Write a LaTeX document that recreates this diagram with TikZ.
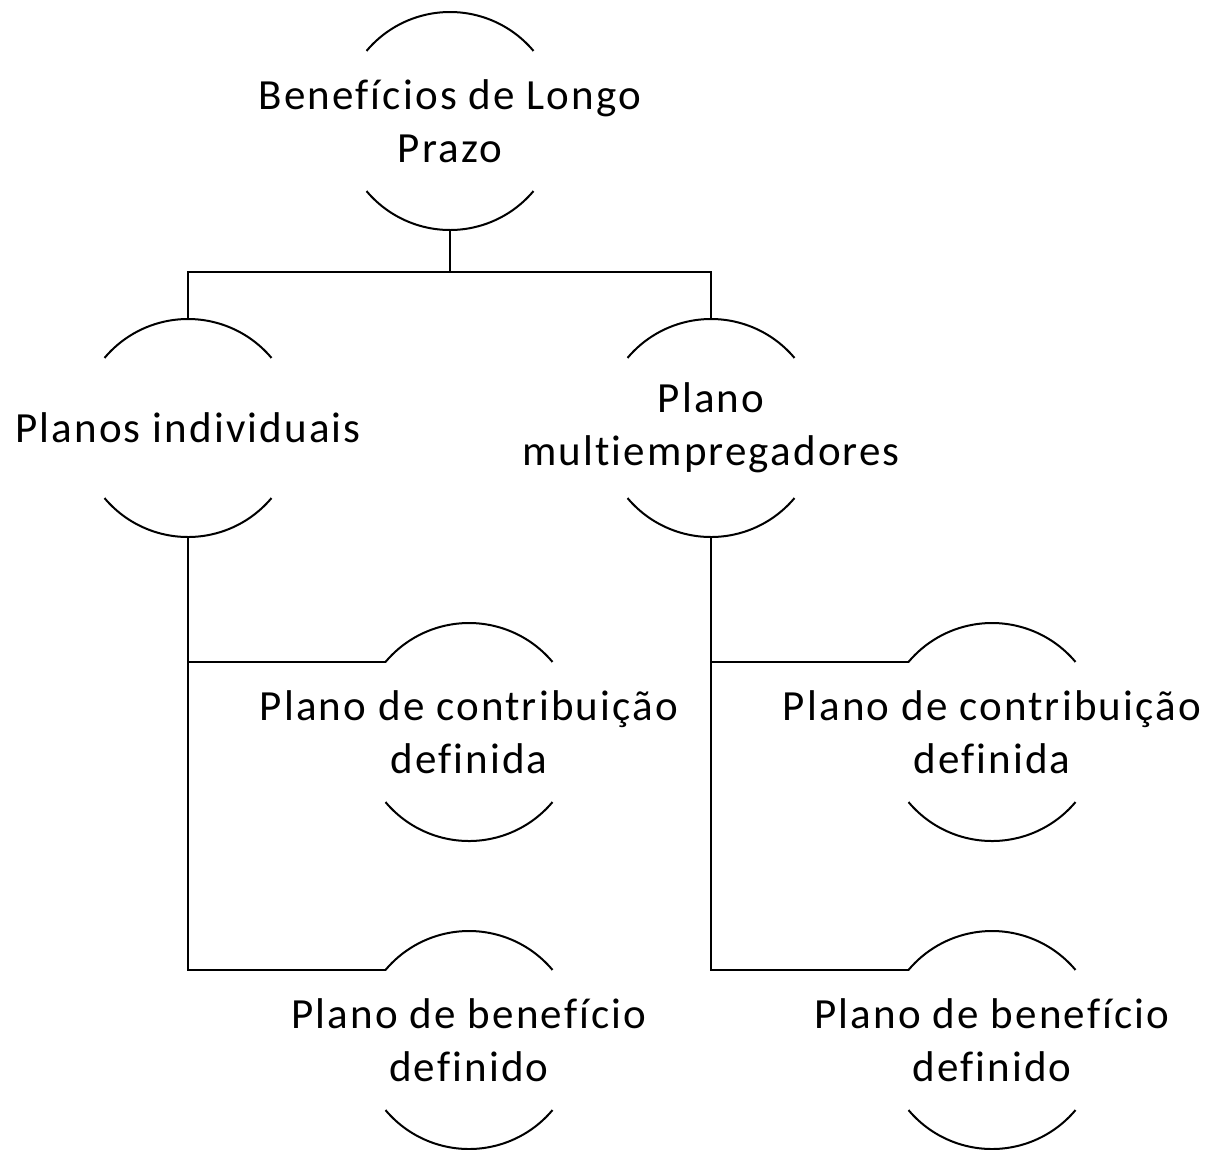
\documentclass[tikz,border=0pt]{standalone}
\usepackage{fontspec}
\setmainfont{Carlito}[LetterSpace=5,Ligatures=NoCommon]
\usetikzlibrary{positioning}
\usetikzlibrary{calc}

\begin{document}
\begin{tikzpicture}[on grid,line width=2pt,
			every node/.style={align=center,inner sep=0pt,font=\fontsize{43}{53}\selectfont}]
			\tikzstyle{ring}=[rectangle]
			\tikzstyle{link}=[draw,line width=2pt]
			
			\useasboundingbox (0pt,0pt) rectangle (1209pt,-1149pt);
			
			\node[ring]         (LP)   at (450pt,-121pt)              {Benefícios de Longo\\Prazo};
			\node[ring]         (PI)   [below left=307pt and 262pt of LP]   {Planos individuais};
			\node[ring]         (PM)   [right=523pt of PI]           {Plano\\multiempregadores};
			\node[ring]         (CDi)  [below right=304pt and 281pt of PI]  {Plano de contribuição\\definida};
			\node[ring]         (CDm)  [right=523pt of CDi]          {Plano de contribuição\\definida};
			\node[ring]         (BDi)  [below=308pt of CDi]          {Plano de benefício\\definido};
			\node[ring]         (BDm)  [right=523pt of BDi]          {Plano de benefício\\definido};
			
			% arcs above and below each label
			\foreach \n in {LP,PI,PM,CDi,CDm,BDi,BDm} {
				\draw ([shift={(40:109pt)}]\n.center) arc (40:140:109pt);
				\draw ([shift={(220:109pt)}]\n.center) arc (220:320:109pt);
				\coordinate (\n-t) at ([shift={(90:109pt)}]\n.center);
				\coordinate (\n-b) at ([shift={(270:109pt)}]\n.center);
				\coordinate (\n-l) at ([shift={(140:109pt)}]\n.center);
			}
			
			\coordinate (fork) at ($(LP-b)+(0,-42pt)$);
			
			\path[link] (LP-b) -- (fork)
			(PI-t) |- (fork) -| (PM-t)
			(PI-b) |- (CDi-l)
			(PI-b) |- (BDi-l)
			(PM-b) |- (CDm-l)
			(PM-b) |- (BDm-l)
			;
			\end{tikzpicture}
\end{document}
